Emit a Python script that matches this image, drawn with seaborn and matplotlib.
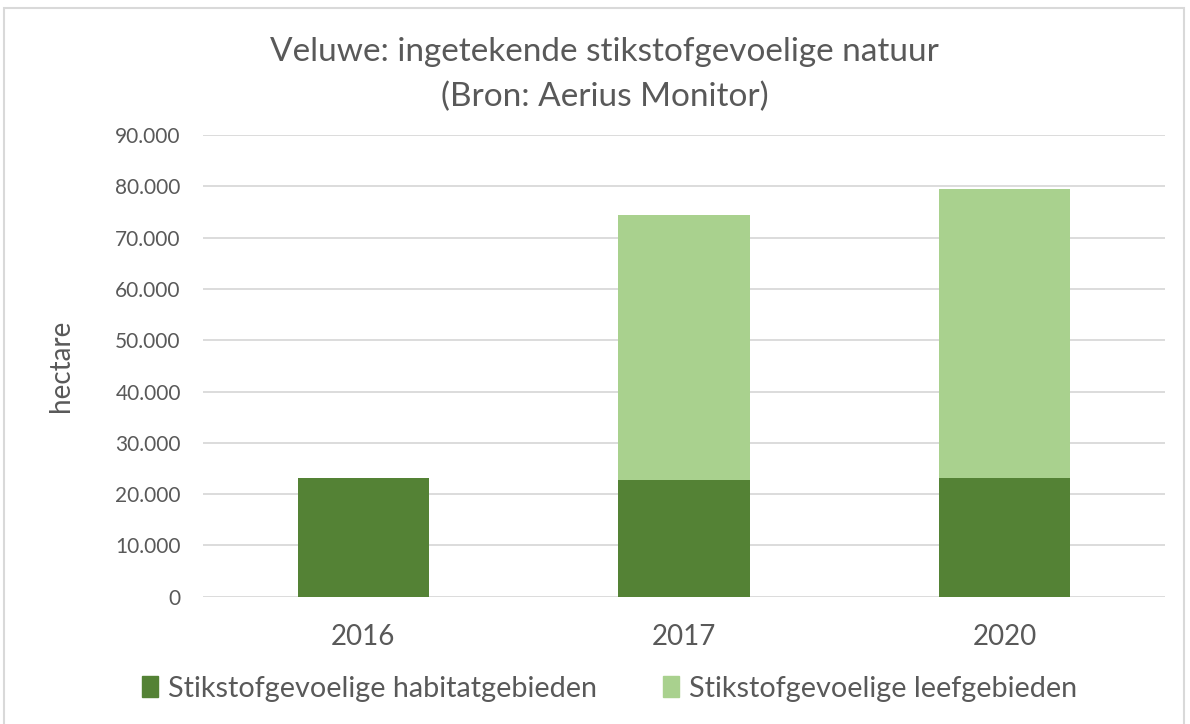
import matplotlib.pyplot as plt
import numpy as np
import pandas as pd
import seaborn as sns
from matplotlib.patches import Rectangle, Patch

darkGreen = "#548235"
lightGreen = "#a9d18e"
textGrey = "#595959"
gridGrey = "#d9d9d9"

years = ["2016", "2017", "2020"]
habitat = [23100, 22850, 23200]
leef = [0, 51600, 56200]
labels = ["Stikstofgevoelige habitatgebieden", "Stikstofgevoelige leefgebieden"]
yticks = [0, 10000, 20000, 30000, 40000, 50000, 60000, 70000, 80000, 90000]

df = pd.DataFrame({"jaar": years, "habitat": habitat, "leef": leef})
df["totaal"] = df["habitat"] + df["leef"]

sns.set_style("white")
plt.rcParams["font.family"] = ["Lato", "DejaVu Sans"]

fig = plt.figure(figsize=(11.9, 7.24), dpi=100)
ax = fig.add_axes((0.1706, 0.1758, 0.8084, 0.6377))

# light bar is the total, dark bar drawn over it
sns.barplot(data=df, x="jaar", y="totaal", color=lightGreen, width=0.41,
            saturation=1, linewidth=0, ax=ax, zorder=3)
sns.barplot(data=df, x="jaar", y="habitat", color=darkGreen, width=0.41,
            saturation=1, linewidth=0, ax=ax, zorder=4)

ax.set_ylim(0, 90000)
ax.set_xlim(-0.5, 2.5)
ax.set_yticks(yticks)
ax.set_yticklabels([f"{v:,}".replace(",", ".") for v in yticks])
ax.yaxis.grid(True, color=gridGrey, linewidth=1.3, zorder=0)
ax.set_axisbelow(True)
for s in ax.spines.values():
    s.set_visible(False)
ax.tick_params(axis="y", length=0, pad=16, labelsize=15, labelcolor=textGrey)
ax.tick_params(axis="x", length=0, pad=20, labelsize=20, labelcolor=textGrey)
ax.set_xlabel("")
ax.set_ylabel("hectare", fontsize=20, color=textGrey, labelpad=30)

fig.text(0.508, 0.928, "Veluwe: ingetekende stikstofgevoelige natuur",
         ha="center", va="center", fontsize=24, color=textGrey)
fig.text(0.508, 0.866, "(Bron: Aerius Monitor)",
         ha="center", va="center", fontsize=24, color=textGrey)

handles = [Patch(color=darkGreen), Patch(color=lightGreen)]
fig.legend(handles, labels, loc="center", bbox_to_anchor=(0.512, 0.049),
           ncol=2, frameon=False, fontsize=20.7, labelcolor=textGrey,
           handlelength=0.55, handleheight=0.75, handletextpad=0.35,
           columnspacing=2.3)

fig.patches.append(Rectangle((0.003, -0.01), 0.992, 0.999, transform=fig.transFigure,
                             fill=False, edgecolor=gridGrey, linewidth=1.5))

fig.savefig("out.png", dpi=100)
